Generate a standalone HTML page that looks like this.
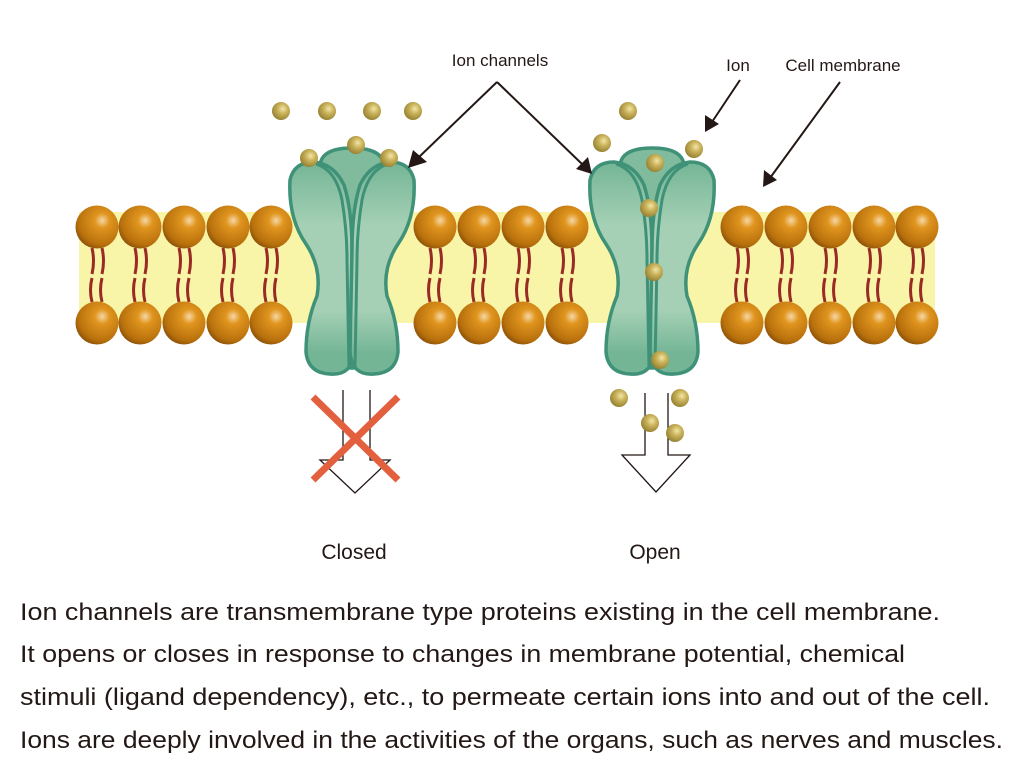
<!DOCTYPE html>
<html><head><meta charset="utf-8"><style>body{margin:0;background:#fff}svg{display:block}</style></head>
<body>
<svg width="1024" height="768" viewBox="0 0 1024 768" xmlns="http://www.w3.org/2000/svg">
<defs>
<radialGradient id="head" cx="0.62" cy="0.35" r="0.7">
<stop offset="0" stop-color="#f6d7a6"/><stop offset="0.25" stop-color="#e0951e"/><stop offset="0.8" stop-color="#b8700c"/><stop offset="1" stop-color="#8a5008"/></radialGradient>
<radialGradient id="ion" cx="0.6" cy="0.38" r="0.7">
<stop offset="0" stop-color="#f1e6a8"/><stop offset="0.4" stop-color="#c9b25a"/><stop offset="1" stop-color="#8e7a2c"/></radialGradient>
<linearGradient id="lobe" x1="0" y1="0" x2="0" y2="1">
<stop offset="0" stop-color="#74b596"/><stop offset="0.3" stop-color="#a5d0b5"/><stop offset="0.7" stop-color="#a5d0b5"/><stop offset="0.9" stop-color="#74b596"/></linearGradient>
<g id="lipid">
<path d="M-5,248 q3,13 0,26 M5,248 q3,13 0,26 M-5,278 q-3,12 0,24 M5,278 q-3,12 0,24" stroke="#9a2a24" stroke-width="3" fill="none"/>
<circle cx="0" cy="227" r="21.5" fill="url(#head)"/>
<circle cx="0" cy="323" r="21.5" fill="url(#head)"/>
</g>
<g id="ch">
<path d="M320,165 Q322,148 352,148 Q382,148 384,165 L382,358 Q352,378 322,358 Z" fill="#7fbb9c" stroke="#3f9278" stroke-width="3.5"/>
<g id="lobeL">
<path d="M290,180 Q294,162 314,162 Q334,164 344,185 Q352,210 352,250 L354,352 Q352,376 330,374 Q308,373 306,352 Q306,322 317,296 Q322,268 306,244 Q288,218 290,180 Z" fill="url(#lobe)" stroke="#3f9278" stroke-width="3.5"/>
<path d="M316,164 Q336,170 342,200 Q347,230 347,260 L349,368" fill="none" stroke="#3f9278" stroke-width="3"/>
</g>
<use href="#lobeL" transform="translate(704,0) scale(-1,1)"/>
</g>
</defs>
<rect x="79" y="212" width="856" height="111" fill="#f8f4a8"/>
<g>
<use href="#lipid" x="97"/><use href="#lipid" x="140"/><use href="#lipid" x="184"/><use href="#lipid" x="228"/><use href="#lipid" x="271"/>
<use href="#lipid" x="435"/><use href="#lipid" x="479"/><use href="#lipid" x="523"/><use href="#lipid" x="567"/>
<use href="#lipid" x="742"/><use href="#lipid" x="786"/><use href="#lipid" x="830"/><use href="#lipid" x="874"/><use href="#lipid" x="917"/>
</g>
<use href="#ch"/>
<use href="#ch" transform="translate(300,0)"/>
<!-- down arrows -->
<path d="M343,390 V460 H320 L355,493 L390,460 H370 V390" fill="#fff" stroke="#231815" stroke-width="1.3"/>
<path d="M645,393 V455 H622 L656,492 L690,455 H668 V393" fill="#fff" stroke="#231815" stroke-width="1.3"/>
<g stroke="#e3603f" stroke-width="7"><line x1="313" y1="397" x2="398" y2="480"/><line x1="398" y1="397" x2="313" y2="480"/></g>
<g fill="url(#ion)">
<circle cx="281" cy="111" r="9"/><circle cx="327" cy="111" r="9"/><circle cx="372" cy="111" r="9"/><circle cx="413" cy="111" r="9"/>
<circle cx="356" cy="145" r="9"/><circle cx="309" cy="158" r="9"/><circle cx="389" cy="158" r="9"/>
<circle cx="628" cy="111" r="9"/><circle cx="602" cy="143" r="9"/><circle cx="694" cy="149" r="9"/>
<circle cx="655" cy="163" r="9"/><circle cx="649" cy="208" r="9"/><circle cx="654" cy="272" r="9"/><circle cx="660" cy="360" r="9"/>
<circle cx="619" cy="398" r="9"/><circle cx="680" cy="398" r="9"/><circle cx="650" cy="423" r="9"/><circle cx="675" cy="433" r="9"/>
</g>
<!-- pointer arrows -->
<g stroke="#231815" stroke-width="2" fill="none">
<line x1="497" y1="82" x2="418" y2="158"/><line x1="497" y1="82" x2="582" y2="164"/>
<line x1="740" y1="80" x2="712" y2="122"/><line x1="840" y1="82" x2="770" y2="178"/>
</g>
<g fill="#231815">
<polygon points="408,168 413,150 427,162"/>
<polygon points="592,174 576,169 588,157"/>
<polygon points="705,132 705,115 719,124"/>
<polygon points="763,187 764,170 777,180"/>
</g>
<g font-family="Liberation Sans, sans-serif" fill="#231815">
<text x="500" y="66" font-size="17" text-anchor="middle">Ion channels</text>
<text x="738" y="71" font-size="17" text-anchor="middle">Ion</text>
<text x="843" y="71" font-size="17" text-anchor="middle">Cell membrane</text>
<text x="354" y="559" font-size="21" text-anchor="middle">Closed</text>
<text x="655" y="559" font-size="21" text-anchor="middle">Open</text>
<g font-size="24">
<text x="20" y="620" textLength="920" lengthAdjust="spacingAndGlyphs">Ion channels are transmembrane type proteins existing in the cell membrane.</text>
<text x="20" y="662" textLength="885" lengthAdjust="spacingAndGlyphs">It opens or closes in response to changes in membrane potential, chemical</text>
<text x="20" y="705" textLength="970" lengthAdjust="spacingAndGlyphs">stimuli (ligand dependency), etc., to permeate certain ions into and out of the cell.</text>
<text x="20" y="748" textLength="983" lengthAdjust="spacingAndGlyphs">Ions are deeply involved in the activities of the organs, such as nerves and muscles.</text>
</g>
</g>
</svg>
</body></html>
